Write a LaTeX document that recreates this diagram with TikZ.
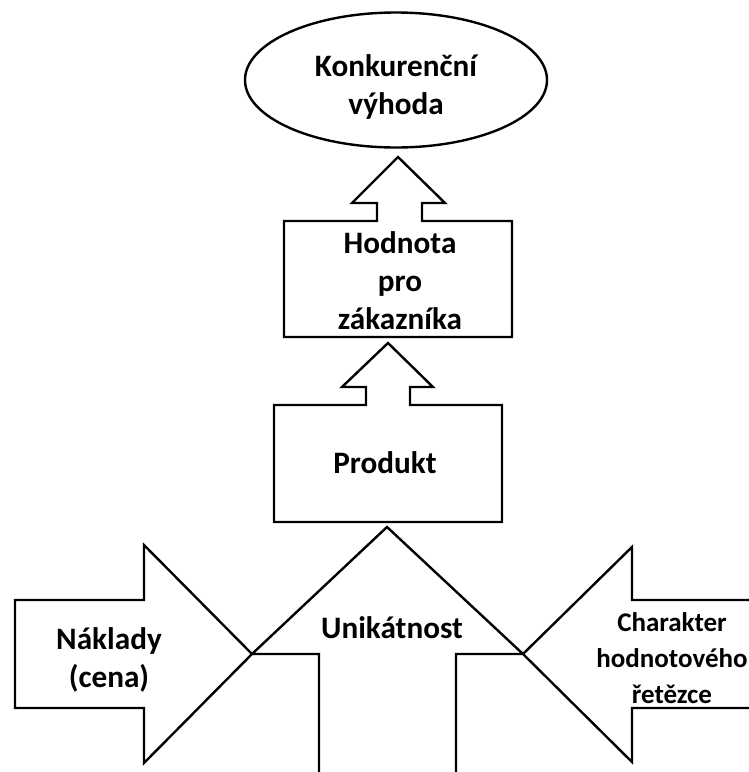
\documentclass[tikz,border=0pt]{standalone}
\usepackage{fontspec}
\setmainfont{Carlito}
\usetikzlibrary{shapes.geometric}
\begin{document}
\begin{tikzpicture}[x=0.5pt,y=-0.5pt,
  outline/.style={draw=black, line width=1.2pt, line join=miter, fill=white},
  lbl/.style={font=\bfseries\fontsize{15.6}{19}\selectfont, align=center, inner sep=0pt},
  lblsmall/.style={font=\bfseries\fontsize{13.5}{18}\selectfont, align=center, inner sep=0pt}]
\useasboundingbox (0,0) rectangle (749,772);
\clip (0,0) rectangle (749,772);

% goal ellipse
\node[ellipse, draw=black, line width=1.2pt, minimum width=151pt, minimum height=67.5pt, inner sep=0pt] (goal) at (396,80) {};
\node[lbl] (goaltext) at (396,87) {Konkurenční\\výhoda};

% Hodnota pro zákazníka box with up arrow
\draw[outline] (284,337) -- (284,221) -- (377,221) -- (377,203) -- (352,203) -- (398,157) -- (445,203) -- (422,203) -- (422,221) -- (512,221) -- (512,337) -- cycle;
\node[lbl] (value) at (400,281) {Hodnota\\pro\\zákazníka};

% Produkt box with up arrow
\draw[outline] (274,522) -- (274,405) -- (366,405) -- (366,387) -- (342,387) -- (388,343) -- (433,387) -- (410,387) -- (410,405) -- (502,405) -- (502,522) -- cycle;
\node[lbl] (product) at (385,463) {Produkt};

% big up arrow Unikátnost
\draw[outline] (319,790) -- (319,654) -- (252,654) -- (387,527) -- (523,654) -- (456,654) -- (456,790);
\node[lbl] (unique) at (392,628) {Unikátnost};

% left arrow Náklady
\draw[outline] (15,600) -- (144,600) -- (144,545) -- (252,654) -- (144,763) -- (144,708) -- (15,708) -- cycle;
\node[lbl] (cost) at (109,660) {Náklady\\(cena)};

% right arrow Charakter
\draw[outline] (760,600) -- (632,600) -- (632,547) -- (523,654) -- (632,762) -- (632,708) -- (760,708);
\node[lblsmall] (chain) at (672,658) {Charakter\\hodnotového\\řetězce};
\end{tikzpicture}
\end{document}
